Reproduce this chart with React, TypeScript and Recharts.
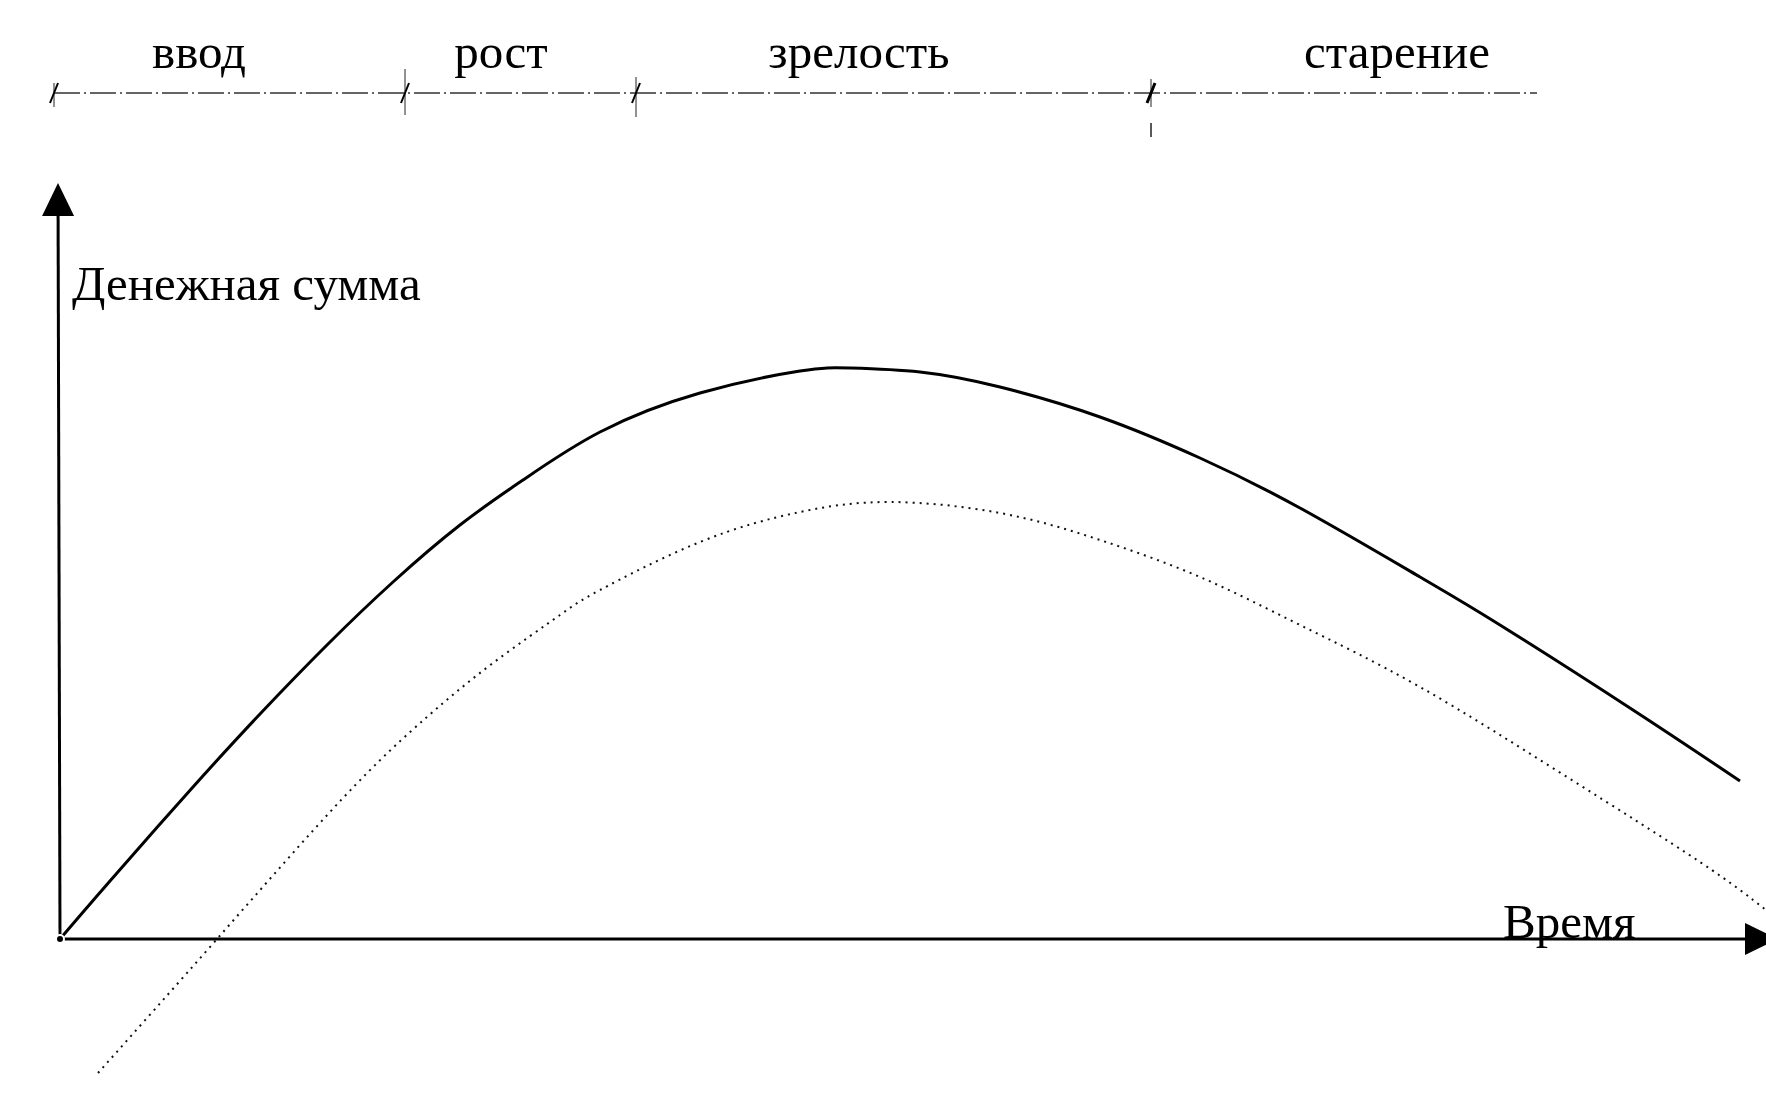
import { LineChart, Line, XAxis, YAxis, ReferenceLine, ReferenceDot } from "recharts";

// time units along the horizontal axis, money units along the vertical one
const solidTime = [0, 5, 13.3, 20, 26.7, 33.3, 40, 46.3, 54, 64, 74, 79, 86, 94, 104, 114, 124, 136, 144, 157.3, 168];
const solidValue = [0, 5.8, 15.2, 22.5, 29.4, 35.7, 41.4, 45.9, 50.7, 54.6, 56.8, 57.1, 56.7, 55.2, 52.2, 48.1, 43.1, 36.2, 31.4, 22.9, 15.8];

const dottedTime = [3.8, 15.7, 28.3, 36.7, 43.3, 50, 54, 64, 74, 83, 94, 104, 114, 124, 136, 150.7, 164, 170.6];
const dottedValue = [-13.4, 0, 14.1, 22.2, 27.6, 32.4, 34.9, 39.7, 42.7, 43.7, 42.6, 39.9, 36.2, 31.4, 25.2, 16.2, 7.7, 2.9];

const phaseNames = ["ввод", "рост", "зрелость", "старение"];
const phaseBounds = [-0.6, 34.5, 57.6, 109.1, 147.7];
const phaseLabelAt = [13.9, 44.1, 79.9, 133.7];

const solidData = solidTime.map((t, i) => ({ t, v: solidValue[i] }));
const dottedData = dottedTime.map((t, i) => ({ t, v: dottedValue[i] }));

const W = 1766;
const H = 1113;
const FONT = '"Liberation Serif", "Times New Roman", serif';

// level of the phase ruler and where the axis arrows end
const PHASE_Y = 84.6;
const Y_TOP = 75.6;
const X_END = 171.8;

// vertical marks on the phase ruler: [up, down, gapTop, gapBottom] in px
const tickStyle = [
  [10, 14, 0, 0],
  [24, 22, 0, 0],
  [16, 24, 0, 0],
  [14, 44, 14, 30],
];

const Arrow = (props: any) => {
  const { x1, y1, x2, y2 } = props;
  const dx = x2 - x1;
  const dy = y2 - y1;
  const len = Math.sqrt(dx * dx + dy * dy) || 1;
  const ux = dx / len;
  const uy = dy / len;
  const L = 33;
  const hw = 16;
  const bx = x2 - ux * L;
  const by = y2 - uy * L;
  const pts = `${x2},${y2} ${bx - uy * hw},${by + ux * hw} ${bx + uy * hw},${by - ux * hw}`;
  return (
    <g>
      <line x1={x1} y1={y1} x2={bx} y2={by} stroke="#000" strokeWidth={3} />
      <polygon points={pts} fill="#000" />
    </g>
  );
};

const makeTick = (i: number) => (props: any) => {
  const { cx, cy } = props;
  const [up, down, gapTop, gapBottom] = tickStyle[i];
  return (
    <g>
      {gapTop > 0 ? (
        <>
          <line x1={cx} y1={cy - up} x2={cx} y2={cy + gapTop} stroke="#222" strokeWidth={1} />
          <line x1={cx} y1={cy + gapBottom} x2={cx} y2={cy + down} stroke="#222" strokeWidth={1.5} />
        </>
      ) : (
        <line x1={cx} y1={cy - up} x2={cx} y2={cy + down} stroke="#222" strokeWidth={1} />
      )}
      <line x1={cx - 4} y1={cy + 10} x2={cx + 4} y2={cy - 10} stroke="#000" strokeWidth={i === 3 ? 3 : 2} />
    </g>
  );
};

const makeText = (text: string, anchor: "start" | "middle") => (props: any) => (
  <text x={props.cx} y={props.cy} textAnchor={anchor} fontFamily={FONT} fontSize={49} fill="#000">
    {text}
  </text>
);

export default function App() {
  return (
    <div style={{ position: "absolute", left: 0, top: 0, width: W, height: H, background: "#fff" }}>
      <LineChart width={W} height={H} margin={{ top: 0, right: 0, bottom: 0, left: 0 }}>
        <XAxis type="number" dataKey="t" domain={[-6, 170.6]} allowDataOverflow hide />
        <YAxis type="number" dataKey="v" domain={[-17.4, 93.9]} allowDataOverflow hide />

        {/* phase ruler */}
        <ReferenceLine
          segment={[{ x: phaseBounds[0], y: PHASE_Y }, { x: phaseBounds[4], y: PHASE_Y }]}
          stroke="#333"
          strokeWidth={1.5}
          strokeDasharray="26 4 2 4"
          ifOverflow="visible"
        />
        {phaseBounds.slice(0, 4).map((b, i) => (
          <ReferenceDot key={"tick" + i} x={b} y={PHASE_Y} r={0} ifOverflow="visible" shape={makeTick(i)} />
        ))}
        {phaseNames.map((name, i) => (
          <ReferenceDot key={name} x={phaseLabelAt[i]} y={93.9 - 6.8} r={0} ifOverflow="visible" shape={makeText(name, "middle")} />
        ))}

        {/* axes with arrows */}
        <ReferenceLine segment={[{ x: 0, y: 0 }, { x: -0.2, y: Y_TOP }]} ifOverflow="visible" shape={Arrow} />
        <ReferenceLine segment={[{ x: 0, y: 0 }, { x: X_END, y: 0 }]} ifOverflow="visible" shape={Arrow} />
        <ReferenceDot x={1.2} y={63.9} r={0} ifOverflow="visible" shape={makeText("Денежная сумма", "start")} />
        <ReferenceDot x={144.3} y={0.1} r={0} ifOverflow="visible" shape={makeText("Время", "start")} />

        <Line
          data={dottedData}
          dataKey="v"
          type="natural"
          stroke="#111"
          strokeWidth={2}
          strokeDasharray="2 5"
          dot={false}
          isAnimationActive={false}
        />
        <Line
          data={solidData}
          dataKey="v"
          type="natural"
          stroke="#000"
          strokeWidth={3}
          dot={false}
          isAnimationActive={false}
        />
      </LineChart>
    </div>
  );
}
